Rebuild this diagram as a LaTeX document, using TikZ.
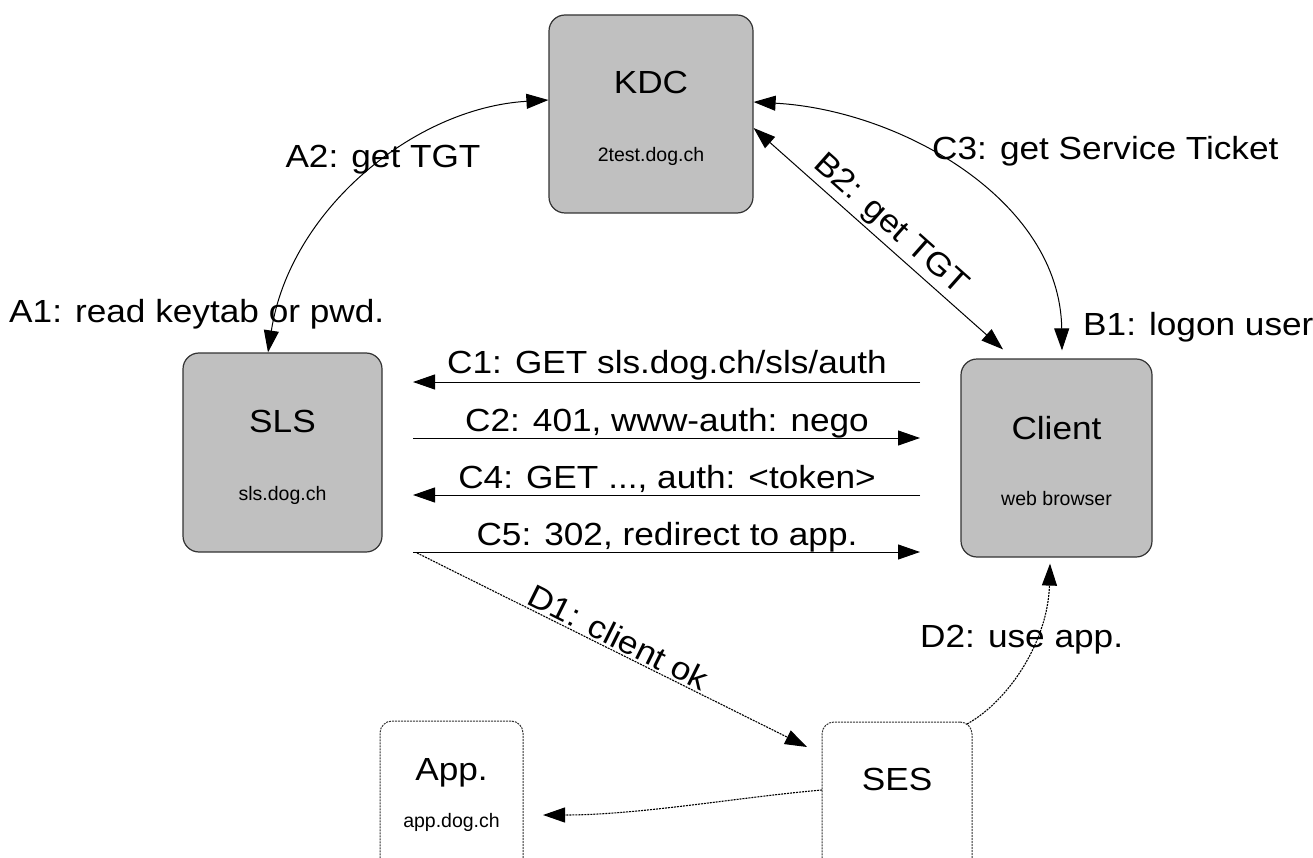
\documentclass[tikz,border=0pt]{standalone}
\usepackage{fontspec}
\setmainfont{Liberation Sans}[FakeStretch=1.1]
\newfontfamily\hostfont{Liberation Sans}
\usetikzlibrary{arrows.meta}
\definecolor{boxgray}{HTML}{C0C0C0}
\definecolor{edgegray}{HTML}{333333}

\begin{document}
\begin{tikzpicture}[x=1pt,y=-1pt,
  srvbox/.style={draw=edgegray, fill=boxgray, line width=1.2pt, rounded corners=16pt, inner sep=0pt},
  dotbox/.style={draw=edgegray, line width=1pt, dash pattern=on 2pt off 1pt, rounded corners=12pt, inner sep=0pt},
  title/.style={font=\fontsize{32}{36}\selectfont, inner sep=0pt, anchor=base},
  host/.style={font=\hostfont\fontsize{19.5}{22}\selectfont, inner sep=0pt, anchor=base},
  lbl/.style={font=\fontsize{32}{36}\selectfont, inner sep=0pt},
  flow/.style={line width=1pt, -{Triangle[length=22pt, width=15pt]}},
  twoway/.style={line width=1pt, {Triangle[length=22pt, width=15pt]}-{Triangle[length=22pt, width=15pt]}},
  dotflow/.style={line width=1.1pt, dash pattern=on 2pt off 1pt, -{Triangle[length=22pt, width=15pt]}}
]
\useasboundingbox[fill=white] (0,0) rectangle (1313,858);

% servers
\node[srvbox, minimum width=204pt, minimum height=198pt] (kdc) at (651,114) {};
\node[srvbox, minimum width=199pt, minimum height=199pt] (sls) at (282.5,452.5) {};
\node[srvbox, minimum width=191pt, minimum height=198pt] (client) at (1056.5,458) {};
\node[dotbox, minimum width=143pt, minimum height=190pt] (app) at (451.5,816) {};
\node[dotbox, minimum width=150pt, minimum height=190pt] (ses) at (897,817) {};

% server captions
\node[title] (kdcname) at (651,94) {KDC};
\node[host] (kdchost) at (651,162) {2test.dog.ch};
\node[title] (slsname) at (282.5,432) {SLS};
\node[host] (slshost) at (282.5,500) {sls.dog.ch};
\node[title] (clientname) at (1056.5,439) {Client};
\node[host] (clienthost) at (1056.5,505) {web browser};
\node[title] (appname) at (451.5,780) {App.};
\node[host] (apphost) at (451.5,827) {app.dog.ch};
\node[title] (sesname) at (897,790) {SES};

% ends of the HTTP exchange lines
\coordinate (c1a) at (920,382); \coordinate (c1b) at (413,382);
\coordinate (c2a) at (413,438); \coordinate (c2b) at (920,438);
\coordinate (c4a) at (920,495); \coordinate (c4b) at (413,495);
\coordinate (c5a) at (413,552); \coordinate (c5b) at (920,552);
\coordinate (d1a) at (417,553); \coordinate (d1b) at (807,747);
\coordinate (d2a) at (967,724);
\coordinate (apa) at (822,790); \coordinate (apb) at (543,815);

% Kerberos exchanges
\draw[twoway] ([yshift=14pt]kdc.west) .. controls (414,108) and (290,210) .. ([xshift=-14.5pt]sls.north);
\draw[twoway] ([yshift=12pt]kdc.east) .. controls (900,110) and (1060,200) .. ([xshift=5.5pt,yshift=8pt]client.north);
\draw[twoway] ([yshift=-14pt]kdc.east) -- node[pos=0.5, sloped, above, lbl, inner sep=3pt] (b2) {B2: get TGT} ([xshift=-53.5pt,yshift=9pt]client.north);

% HTTP exchange
\draw[flow] (c1a) -- (c1b);
\draw[flow] (c2a) -- (c2b);
\draw[flow] (c4a) -- (c4b);
\draw[flow] (c5a) -- (c5b);
\node[lbl, anchor=base] (c1) at (667,373) {C1: GET sls.dog.ch/sls/auth};
\node[lbl, anchor=base] (c2) at (667,431) {C2: 401, www-auth: nego};
\node[lbl, anchor=base] (c4) at (667,488) {C4: GET ..., auth: <token>};
\node[lbl, anchor=base] (c5) at (667,545) {C5: 302, redirect to app.};

% session hand-over
\draw[dotflow] (d1a) -- node[pos=0.5, sloped, above, lbl, inner sep=2pt] (d1) {D1: client ok} (d1b);
\draw[dotflow] (d2a) .. controls (1010,700) and (1048,640) .. ([xshift=-6.5pt,yshift=-6pt]client.south);
\draw[dotflow] (apa) .. controls (740,797) and (640,815) .. (apb);

% step labels
\node[lbl, anchor=base] (a2) at (383,168) {A2: get TGT};
\node[lbl, anchor=base west] (a1) at (9,322) {A1: read keytab or pwd.};
\node[lbl, anchor=base west] (c3) at (932,160) {C3: get Service Ticket};
\node[lbl, anchor=base west] (b1) at (1083,335) {B1: logon user};
\node[lbl, anchor=base west] (d2) at (920,647) {D2: use app.};
\end{tikzpicture}
\end{document}
